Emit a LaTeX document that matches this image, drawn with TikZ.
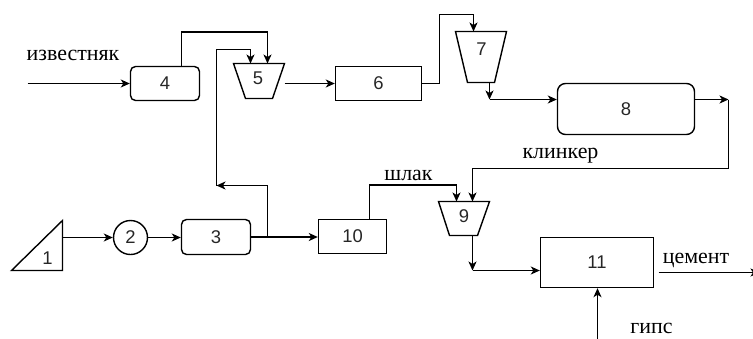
\documentclass[tikz,border=0pt]{standalone}
\usepackage{fontspec}
\setmainfont{Liberation Serif}
\setsansfont{Liberation Sans}
\usetikzlibrary{arrows.meta,calc}
\begin{document}
\begin{tikzpicture}[x=1bp,y=-1bp,line width=1.4bp,
  >={Stealth[length=9bp,width=8bp,inset=2.5bp]},
  num/.style={font=\sffamily\fontsize{18.5}{18.5}\selectfont,text=black!85},
  box/.style={draw,num,inner sep=0pt},
  rbox/.style={box,rounded corners=5bp},
  word/.style={font=\rmfamily\fontsize{22}{22}\selectfont,anchor=base,inner sep=0pt},
  shapeline/.style={draw,line join=miter}]
\useasboundingbox (0,0) rectangle (753,338);
\begin{scope}[shift={(0.5,0.5)}]
% boxes
\node[rbox,minimum width=69bp,minimum height=34bp] (n4) at (164.5,83) {4};
\node[box,minimum width=86bp,minimum height=34bp] (n6) at (378,83) {6};
\node[rbox,rounded corners=8bp,minimum width=137bp,minimum height=51bp] (n8) at (625.5,108.5) {8};
\node[rbox,minimum width=69bp,minimum height=35bp] (n3) at (215.5,236.5) {3};
\node[box,minimum width=68bp,minimum height=34bp] (n10) at (352,236) {10};
\node[box,minimum width=113bp,minimum height=50bp] (n11) at (596.5,262) {11};
\node[box,circle,minimum size=34bp] (n2) at (130,237) {2};
% triangle 1
\draw[shapeline] (11,270) -- (62,220) -- (62,270) -- cycle;
\node[num] (n1) at (47,258) {1};
\coordinate (t1r) at (62,237);
% trapezoid 5
\draw[shapeline] (233,63) -- (284,63) -- (272,98) -- (245,98) -- cycle;
\node[num] (n5) at (257.5,78) {5};
\coordinate (t5a) at (250,63);
\coordinate (t5b) at (267,63);
\coordinate (t5r) at (284,83);
% trapezoid 7
\draw[shapeline] (455,31) -- (506,31) -- (494,82) -- (467,82) -- cycle;
\node[num] (n7) at (481,49) {7};
\coordinate (t7t) at (473,31);
\coordinate (t7b) at (489,82);
% trapezoid 9
\draw[shapeline] (438,201) -- (489,201) -- (477,235) -- (449,235) -- cycle;
\node[num] (n9) at (463.5,216) {9};
\coordinate (t9a) at (456,201);
\coordinate (t9b) at (472,201);
\coordinate (t9bot) at (472,235);
% words
\node[word] (tizv) at (72.5,60) {известняк};
\node[word] (tkl) at (560,158) {клинкер};
\node[word] (tsl) at (408,180) {шлак};
\node[word] (tcem) at (695.5,263) {цемент};
\node[word] (tgips) at (651,333) {гипс};
% junction coordinates
\coordinate (inA) at (27,83);
\coordinate (br) at (267,237);
\coordinate (fb) at (216,185);
\coordinate (p8) at (489,99);
\coordinate (p8r) at (728,99);
\coordinate (p11) at (472,270);
\coordinate (cemS) at (658,272);
\coordinate (cemE) at (759,272);
\coordinate (gin) at (597,340);
% connectors
\draw[->] (inA) -- (n4.west);
\draw[->] ([xshift=16.5bp]n4.north) -- ++(0,-34) -| (t5b);
\draw[->] (br) |- (fb);
\draw[->] (fb) -- ++(0,-136) -| (t5a);
\draw[->] (t5r) -- (t5r -| n6.west);
\draw[->] (n6.east) -- ++(17,0) -- ++(0,-69) -| (t7t);
\draw[->] (t7b) -- (p8);
\draw[->] (p8) -- (p8 -| n8.west);
\draw[->] (p8r -| n8.east) -- (p8r);
\draw[->] (p8r) -- ++(0,69) -| (t9b);
\draw[->] ([xshift=17bp]n10.north) -- ++(0,-34) -| (t9a);
\draw[->] (t1r) -- (n2.west);
\draw[->] (n2.east) -- (n2.east -| n3.west);
\draw[->] (n3.east) -- (n3.east -| n10.west);
\draw[->] (t9bot) -- (p11);
\draw[->] (p11) -- (p11 -| n11.west);
\draw[->] (cemS) -- (cemE);
\draw[->] (gin) -- (gin |- n11.south);
\end{scope}
\end{tikzpicture}
\end{document}
